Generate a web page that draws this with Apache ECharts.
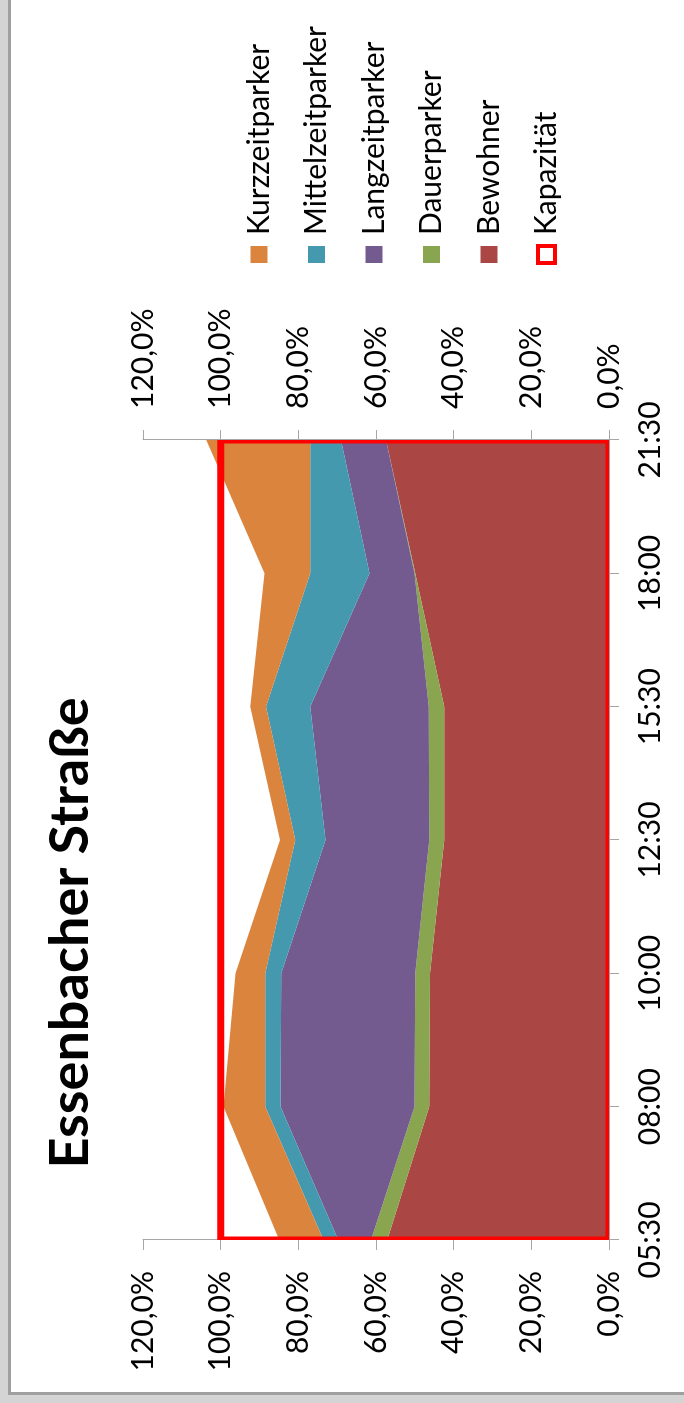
<!DOCTYPE html>
<html>
<head>
<meta charset="utf-8">
<title>Essenbacher Straße</title>
<script src="https://cdn.jsdelivr.net/npm/echarts@6/dist/echarts.min.js"></script>
<style>
  html, body { margin: 0; padding: 0; overflow: hidden; background: #d4d4d4; }
  /* weisser Rahmen mit grauer Kante links/unten */
  #panel {
    position: absolute; left: 8px; top: 0;
    width: 676px; height: 1395px;
    box-sizing: border-box;
    background: #fff;
    border-left: 3px solid #a0a0a0;
    border-bottom: 3px solid #a0a0a0;
  }
  /* Diagramm im Querformat, um 90 Grad gedreht */
  #main {
    position: absolute; left: 0; top: 0;
    width: 1403px; height: 684px;
    transform-origin: 0 0;
    transform: translateY(1403px) rotate(-90deg);
  }
</style>
</head>
<body>
<div id="panel"></div>
<div id="main"></div>
<script>
  // Daten (Auslastung in %)
  var categories = ['05:30', '08:00', '10:00', '12:30', '15:30', '18:00', '21:30'];
  var bewohner = [57.1, 46.3, 46.1, 42.4, 42.4, 49.9, 57.4];
  var dauerparker = [4.2, 3.8, 3.8, 3.9, 4.0, 0.2, 0];
  var langzeitparker = [8.4, 34.5, 34.5, 26.7, 30.5, 11.6, 11.6];
  var mittelzeitparker = [3.8, 3.9, 4.1, 7.8, 11.4, 15.2, 7.9];
  var kurzzeitparker = [11.4, 10.8, 7.7, 3.9, 4.1, 11.8, 26.8];
  var kapazitaet = [100, 100, 100, 100, 100, 100, 100];

  var font = 'Lato';
  var axisGray = '#a6a6a6';

  var myChart = echarts.init(document.getElementById('main'));

  function areaSeries(name, data, color) {
    return {
      name: name,
      type: 'line',
      stack: 'parker',
      data: data,
      symbol: 'none',
      lineStyle: {width: 0},
      itemStyle: {color: color},
      areaStyle: {color: color, opacity: 1},
      emphasis: {disabled: true}
    };
  }

  function pct(v) {
    return v.toFixed(1).replace('.', ',') + '%';
  }

  var valueAxis = function (pos) {
    return {
      type: 'value',
      position: pos,
      min: 0,
      max: 120,
      interval: 20,
      splitLine: {show: false},
      axisLine: {show: true, lineStyle: {color: axisGray}},
      axisTick: {show: true, length: 10, lineStyle: {color: axisGray}},
      axisLabel: {formatter: pct, color: '#000', fontFamily: font, fontSize: 30, margin: 31}
    };
  };

  // Kapazität als Flächenumriss (ohne Füllung), wie im Original
  function renderKapazitaet(params, api) {
    if (params.dataIndex !== 0) return null;
    var pts = [];
    for (var i = 0; i < categories.length; i++) {
      pts.push(api.coord([i, kapazitaet[i]]));
    }
    pts.push(api.coord([categories.length - 1, 0]));
    pts.push(api.coord([0, 0]));
    return {
      type: 'polygon',
      shape: {points: pts},
      style: {fill: 'none', stroke: '#ff0000', lineWidth: 7, lineJoin: 'miter'}
    };
  }

  var option = {
    animation: false,
    graphic: [{
      type: 'text',
      x: 470,
      y: 71,
      style: {
        text: 'Essenbacher Straße',
        font: 'bold 54px Lato',
        fill: '#000',
        textAlign: 'center',
        textVerticalAlign: 'middle'
      }
    }],
    legend: {
      orient: 'vertical',
      left: 1133,
      top: 239,
      itemWidth: 17,
      itemHeight: 17,
      itemGap: 27.5,
      itemStyle: {borderWidth: 0},
      textStyle: {fontFamily: font, fontSize: 30, lineHeight: 30, color: '#000', padding: [0, 0, 0, 6]},
      data: [
        {name: 'Kurzzeitparker', icon: 'rect'},
        {name: 'Mittelzeitparker', icon: 'rect'},
        {name: 'Langzeitparker', icon: 'rect'},
        {name: 'Dauerparker', icon: 'rect'},
        {name: 'Bewohner', icon: 'rect'},
        {name: 'Kapazität', icon: 'rect', itemStyle: {color: '#fff', borderColor: '#ff0000', borderWidth: 4}}
      ]
    },
    grid: {left: 163, right: 440, top: 143, bottom: 75},
    xAxis: [{
      type: 'category',
      position: 'bottom',
      data: categories,
      boundaryGap: false,
      axisLine: {lineStyle: {color: axisGray}},
      axisTick: {length: 10, lineStyle: {color: axisGray}},
      axisLabel: {color: '#000', fontFamily: font, fontSize: 30, margin: 26}
    }, {
      type: 'category',
      position: 'top',
      data: categories,
      boundaryGap: false,
      axisLine: {lineStyle: {color: axisGray}},
      axisTick: {show: false},
      axisLabel: {show: false}
    }],
    yAxis: [valueAxis('left'), valueAxis('right')],
    series: [
      areaSeries('Bewohner', bewohner, '#aa4644'),
      areaSeries('Dauerparker', dauerparker, '#8aa54f'),
      areaSeries('Langzeitparker', langzeitparker, '#735a8f'),
      areaSeries('Mittelzeitparker', mittelzeitparker, '#4499af'),
      areaSeries('Kurzzeitparker', kurzzeitparker, '#db843d'),
      {
        name: 'Kapazität',
        type: 'custom',
        data: kapazitaet.map(function (v, i) { return [i, v]; }),
        renderItem: renderKapazitaet,
        clip: true,
        z: 5,
        silent: true,
        itemStyle: {color: '#ff0000'}
      }
    ]
  };

  myChart.setOption(option);
</script>
</body>
</html>
